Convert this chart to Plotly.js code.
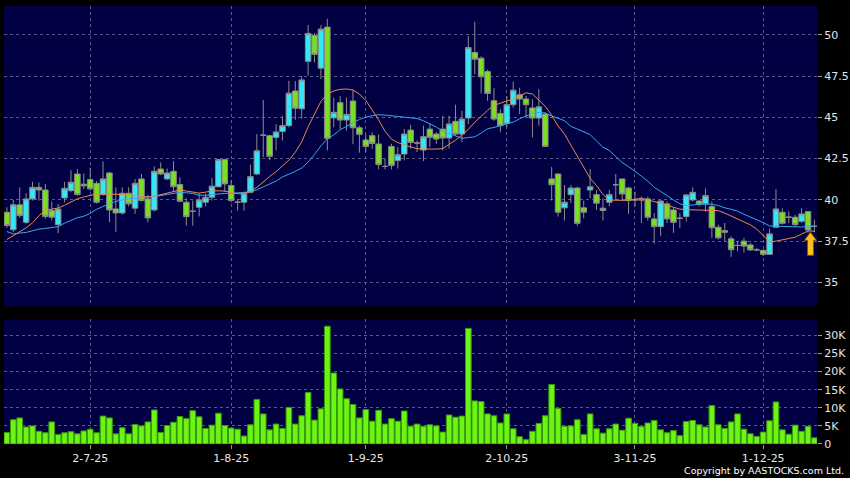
<!DOCTYPE html>
<html><head><meta charset="utf-8">
<script src="https://cdn.plot.ly/plotly-3.0.1.min.js"></script>
<style>html,body{margin:0;padding:0;background:#000;} #chart{width:850px;height:478px;}</style>
</head><body><div id="chart"></div>
<script>
// ---- data ----
const openP = [39.25,38.19,39.70,38.64,40.06,40.76,40.60,39.35,38.50,40.12,
 40.56,41.57,40.95,41.23,41.00,40.32,41.63,39.45,39.21,40.40,
 39.50,41.27,40.06,39.39,41.87,41.27,41.73,40.93,39.86,39.31,
 39.55,39.86,40.16,40.80,42.44,40.87,39.86,39.86,40.46,41.57,
 43.92,43.89,43.79,44.15,44.50,46.60,45.52,48.40,49.97,47.98,
 50.47,44.97,45.89,44.84,45.99,44.37,43.63,43.89,43.39,42.03,
 43.24,42.38,42.78,44.23,43.45,43.02,44.29,43.99,44.29,43.75,
 44.76,43.99,44.96,48.93,48.59,47.78,46.01,45.24,44.64,45.77,
 46.37,46.11,45.57,44.96,45.20,41.27,41.57,39.52,40.32,40.72,
 39.52,40.60,40.32,39.36,39.86,40.92,41.27,40.72,40.00,40.00,
 40.06,38.85,38.38,39.76,39.39,38.89,38.99,40.00,39.93,39.76,
 39.60,38.34,38.14,37.64,37.24,37.50,37.27,36.97,36.94,36.70,
 38.34,39.25,38.95,38.95,38.70,39.29,38.40];
const highP = [39.55,40.00,40.76,40.40,41.10,41.06,40.97,39.90,39.76,41.10,
 41.80,41.87,41.60,41.95,41.15,42.33,41.70,40.76,40.76,40.76,
 41.27,41.57,40.30,42.03,42.27,41.90,42.35,41.37,40.10,39.96,
 40.40,40.40,41.33,42.50,42.50,41.20,40.06,40.50,42.14,43.99,
 46.06,43.95,44.60,45.10,47.22,47.20,47.50,50.60,50.10,50.60,
 50.97,46.20,46.29,46.20,46.65,44.50,43.97,44.10,43.97,42.50,
 43.40,43.20,44.30,44.55,43.60,44.50,44.65,44.10,45.10,45.10,
 45.77,45.40,49.94,50.79,48.70,47.90,46.77,45.50,46.30,47.16,
 46.80,46.30,46.10,46.71,45.30,42.00,41.60,40.90,40.90,40.80,
 39.96,41.87,40.60,40.10,40.60,41.57,41.30,40.80,40.50,40.20,
 40.20,39.20,40.00,39.90,39.50,39.20,40.35,40.76,40.00,40.70,
 39.90,38.50,38.60,37.80,37.50,37.70,37.40,37.10,37.00,38.25,
 40.66,39.50,39.30,39.10,39.50,39.30,38.80];
const lowP = [38.30,38.04,38.90,38.55,39.96,39.96,38.85,38.75,37.98,39.85,
 40.46,40.26,40.65,40.56,39.78,40.26,38.64,38.04,39.10,39.60,
 39.15,39.90,38.64,39.30,41.50,41.20,40.46,39.86,38.44,38.44,
 39.00,39.60,39.96,40.75,40.50,39.86,39.35,39.35,40.40,41.50,
 42.60,42.40,43.00,43.60,44.40,44.84,44.90,47.53,48.33,47.32,
 43.00,44.40,44.30,44.20,43.37,42.86,42.90,43.10,41.85,41.85,
 41.85,41.90,42.40,43.10,42.90,42.35,43.20,43.40,43.00,43.10,
 43.90,43.50,44.60,47.62,46.45,46.00,44.80,44.10,44.40,45.60,
 45.20,45.00,43.79,44.50,43.20,39.96,38.99,38.75,39.80,38.44,
 38.90,40.10,39.40,38.75,39.60,40.00,39.96,39.15,39.60,38.60,
 38.75,37.34,37.80,38.60,38.00,38.30,38.70,39.90,39.60,39.30,
 37.70,37.60,37.50,36.55,36.90,36.80,36.90,36.90,36.60,36.70,
 38.30,38.50,38.60,38.40,38.60,38.00,38.04];
const closeP = [38.45,39.70,39.05,40.06,40.76,40.60,39.00,38.95,39.45,40.70,
 41.07,40.32,40.85,40.67,39.86,41.27,39.39,39.21,40.40,39.76,
 41.00,39.96,38.91,41.73,41.57,41.63,40.80,39.92,38.99,39.31,
 40.00,40.16,40.83,42.44,40.97,39.96,39.86,40.40,41.41,42.98,
 43.92,42.64,44.12,44.50,46.47,45.55,47.27,50.09,48.82,50.35,
 43.72,45.31,44.84,45.18,44.37,43.97,43.24,43.42,42.14,42.03,
 42.08,42.74,43.99,43.48,43.45,43.83,43.79,43.69,43.75,44.60,
 43.99,44.90,49.23,48.53,47.46,46.45,44.90,44.50,45.77,46.65,
 46.11,45.77,44.96,45.64,43.24,40.92,39.25,39.86,40.72,38.58,
 39.25,40.80,39.80,39.50,40.32,40.92,40.36,39.96,40.00,40.00,
 38.95,38.38,39.93,38.85,38.64,38.89,40.30,40.46,39.73,40.26,
 38.31,37.70,38.04,36.98,37.24,37.20,36.97,36.97,36.70,37.94,
 39.45,38.58,38.95,38.50,39.15,38.18,38.40];
// volume in thousands of shares
const volumeK = [3.2,6.7,7.2,4.7,5.0,3.5,3.1,6.1,2.6,3.1,
 3.4,2.8,3.6,4.1,3.1,7.7,7.2,2.8,4.5,2.8,
 5.4,5.0,6.1,9.4,3.2,5.1,6.0,7.6,7.0,9.2,
 7.5,4.3,5.2,8.5,5.1,4.4,4.1,2.2,5.3,12.3,
 8.3,3.9,5.5,4.3,10.1,5.5,7.8,14.2,6.6,9.7,
 32.5,19.6,15.2,12.5,10.9,7.2,9.5,6.3,9.3,5.5,
 7.0,6.3,9.1,4.9,5.5,4.9,5.3,5.0,3.3,8.0,
 7.4,7.7,31.9,11.9,11.7,8.3,7.8,5.8,8.3,4.2,
 2.0,1.2,3.5,5.7,7.8,16.4,9.8,4.9,5.0,6.7,
 2.6,8.3,4.2,3.0,4.2,5.5,3.8,7.1,5.7,4.8,
 5.8,6.5,3.9,3.1,3.7,2.3,6.2,6.5,5.3,4.7,
 10.6,5.3,4.3,6.1,8.3,4.1,2.8,2.1,3.3,6.4,
 11.6,3.9,2.7,5.2,3.5,4.9,1.7];
// moving averages as drawn (orange = short, blue = long)
const maShort = [37.60,37.83,38.03,38.31,38.61,39.04,39.37,39.44,39.51,39.67,
 39.87,40.07,40.18,40.25,40.36,40.36,40.36,40.36,40.33,40.29,
 40.25,40.21,40.17,40.22,40.31,40.41,40.50,40.60,40.54,40.47,
 40.41,40.47,40.55,40.55,40.53,40.45,40.37,40.39,40.52,40.76,
 41.10,41.42,41.71,42.09,42.41,42.89,43.52,44.43,45.24,45.97,
 46.41,46.60,46.70,46.72,46.66,46.42,46.03,45.47,44.85,44.16,
 43.68,43.47,43.32,43.21,43.10,43.07,43.08,43.08,43.11,43.37,
 43.62,43.93,44.28,44.70,45.09,45.43,45.73,45.85,45.98,46.12,
 46.30,46.49,46.42,46.04,45.67,45.13,44.48,43.99,43.32,42.63,
 41.95,41.31,40.87,40.33,39.99,39.97,39.97,39.98,40.04,40.10,
 40.01,39.89,39.80,39.68,39.55,39.44,39.41,39.40,39.38,39.36,
 39.35,39.35,39.20,39.01,38.86,38.67,38.49,38.23,37.82,37.45,
 37.50,37.57,37.63,37.74,37.93,38.12,38.10];
const maLong = [38.08,37.94,37.99,38.03,38.13,38.23,38.27,38.31,38.38,38.59,
 38.78,38.92,39.01,39.18,39.43,39.62,39.77,39.91,40.01,40.08,
 40.10,40.13,40.16,40.20,40.26,40.33,40.40,40.46,40.43,40.39,
 40.28,40.28,40.33,40.37,40.39,40.40,40.42,40.45,40.51,40.61,
 40.79,40.95,41.14,41.39,41.54,41.73,41.93,42.29,42.75,43.28,
 43.70,43.94,44.25,44.48,44.67,44.87,45.02,45.10,45.16,45.14,
 45.10,45.08,45.04,44.99,44.93,44.80,44.61,44.41,44.17,44.02,
 43.90,43.73,43.78,43.82,44.05,44.31,44.39,44.51,44.60,44.71,
 44.92,45.08,45.24,45.30,45.27,45.09,44.94,44.80,44.46,44.30,
 44.13,43.96,43.57,43.19,42.99,42.61,42.27,42.01,41.75,41.44,
 41.13,40.77,40.51,40.24,40.00,39.76,39.66,39.69,39.74,39.74,
 39.74,39.66,39.52,39.43,39.32,39.13,38.97,38.80,38.63,38.42,
 38.40,38.38,38.37,38.36,38.36,38.39,38.41];
const dateTickIdx = [13,35,56,78,98,118];
const dateTickLabels = ['2-7-25','1-8-25','1-9-25','2-10-25','3-11-25','1-12-25'];
const priceTicks = [35,37.5,40,42.5,45,47.5,50];
const priceTickLabels = ['35','37.5','40','42.5','45','47.5','50'];
const volTicks = [0,5,10,15,20,25,30];
const volTickLabels = ['0','5K','10K','15K','20K','25K','30K'];

const idx = openP.map((_, i) => i);
const last = idx.length - 1;

const GRID = '#5a5a8c';
const FONT = 'DejaVu Sans, Verdana, sans-serif';
const tickFont = {family: FONT, size: 11, color: '#e6e6e6'};

const traces = [
  {type:'candlestick', x:idx, open:openP, high:highP, low:lowP, close:closeP,
   xaxis:'x', yaxis:'y', whiskerwidth:0, hoverinfo:'skip',
   increasing:{line:{color:'#8c8c8c', width:1}, fillcolor:'#33e8f6'},
   decreasing:{line:{color:'#8c8c8c', width:1}, fillcolor:'#7ade22'}},
  {type:'scatter', mode:'lines', x:idx, y:maLong, xaxis:'x', yaxis:'y',
   line:{color:'#3aa6ec', width:1}, hoverinfo:'skip'},
  {type:'scatter', mode:'lines', x:idx, y:maShort, xaxis:'x', yaxis:'y',
   line:{color:'#e88a4e', width:1}, hoverinfo:'skip'},
  {type:'bar', x:idx, y:volumeK, xaxis:'x2', yaxis:'y2',
   marker:{color:'#6cf414', line:{color:'#3a9a08', width:1}}, hoverinfo:'skip'}
];

const xRange = [-0.45, 126.4];
const layout = {
  width:850, height:478,
  paper_bgcolor:'#000000', plot_bgcolor:'#000042',
  margin:{l:4, r:33, t:6, b:34},
  showlegend:false,
  boxgap:0.14, boxgroupgap:0, bargap:0.12,
  font:{family:FONT, color:'#e6e6e6'},
  xaxis:{domain:[0,1], range:xRange, anchor:'y', rangeslider:{visible:false},
    tickmode:'array', tickvals:dateTickIdx, ticktext:dateTickLabels, showticklabels:false,
    ticks:'', showgrid:true, gridcolor:GRID, griddash:'3px,3px', gridwidth:1, zeroline:false, showline:false},
  yaxis:{domain:[0.3143,1], range:[33.55,51.75], anchor:'x', side:'right',
    tickmode:'array', tickvals:priceTicks, ticktext:priceTickLabels, tickfont:tickFont,
    ticks:'outside', ticklen:4, tickcolor:'#9a9a9a',
    showgrid:true, gridcolor:GRID, griddash:'3px,3px', gridwidth:1, zeroline:false, showline:false},
  xaxis2:{domain:[0,1], range:xRange, anchor:'y2',
    tickmode:'array', tickvals:dateTickIdx, ticktext:dateTickLabels, tickfont:tickFont,
    ticks:'outside', ticklen:4, tickcolor:'#9a9a9a',
    showgrid:true, gridcolor:GRID, griddash:'3px,3px', gridwidth:1, zeroline:false, showline:false},
  yaxis2:{domain:[0,0.2846], range:[0,34.4], anchor:'x2', side:'right',
    tickmode:'array', tickvals:volTicks, ticktext:volTickLabels, tickfont:tickFont,
    ticks:'outside', ticklen:4, tickcolor:'#9a9a9a',
    showgrid:true, gridcolor:GRID, griddash:'3px,3px', gridwidth:1, zeroline:false, showline:false},
  shapes:[
    {type:'path', xref:'x', yref:'y', xsizemode:'pixel', ysizemode:'pixel',
     xanchor:last, yanchor:closeP[last],
     path:'M-4,-6 L2,-14 L-1,-14 L-1,-29 L-7,-29 L-7,-14 L-10,-14 Z',
     fillcolor:'#ffc21a', line:{color:'#8a5a00', width:1}}
  ],
  annotations:[
    {text:'Copyright by AASTOCKS.com Ltd.', xref:'paper', yref:'paper',
     x:1.0357, y:-0.061, xanchor:'right', yanchor:'middle', showarrow:false,
     font:{family:FONT, size:9.5, color:'#ffffff'}}
  ]
};

Plotly.newPlot('chart', traces, layout, {staticPlot:true, displayModeBar:false});
</script>
</body></html>
